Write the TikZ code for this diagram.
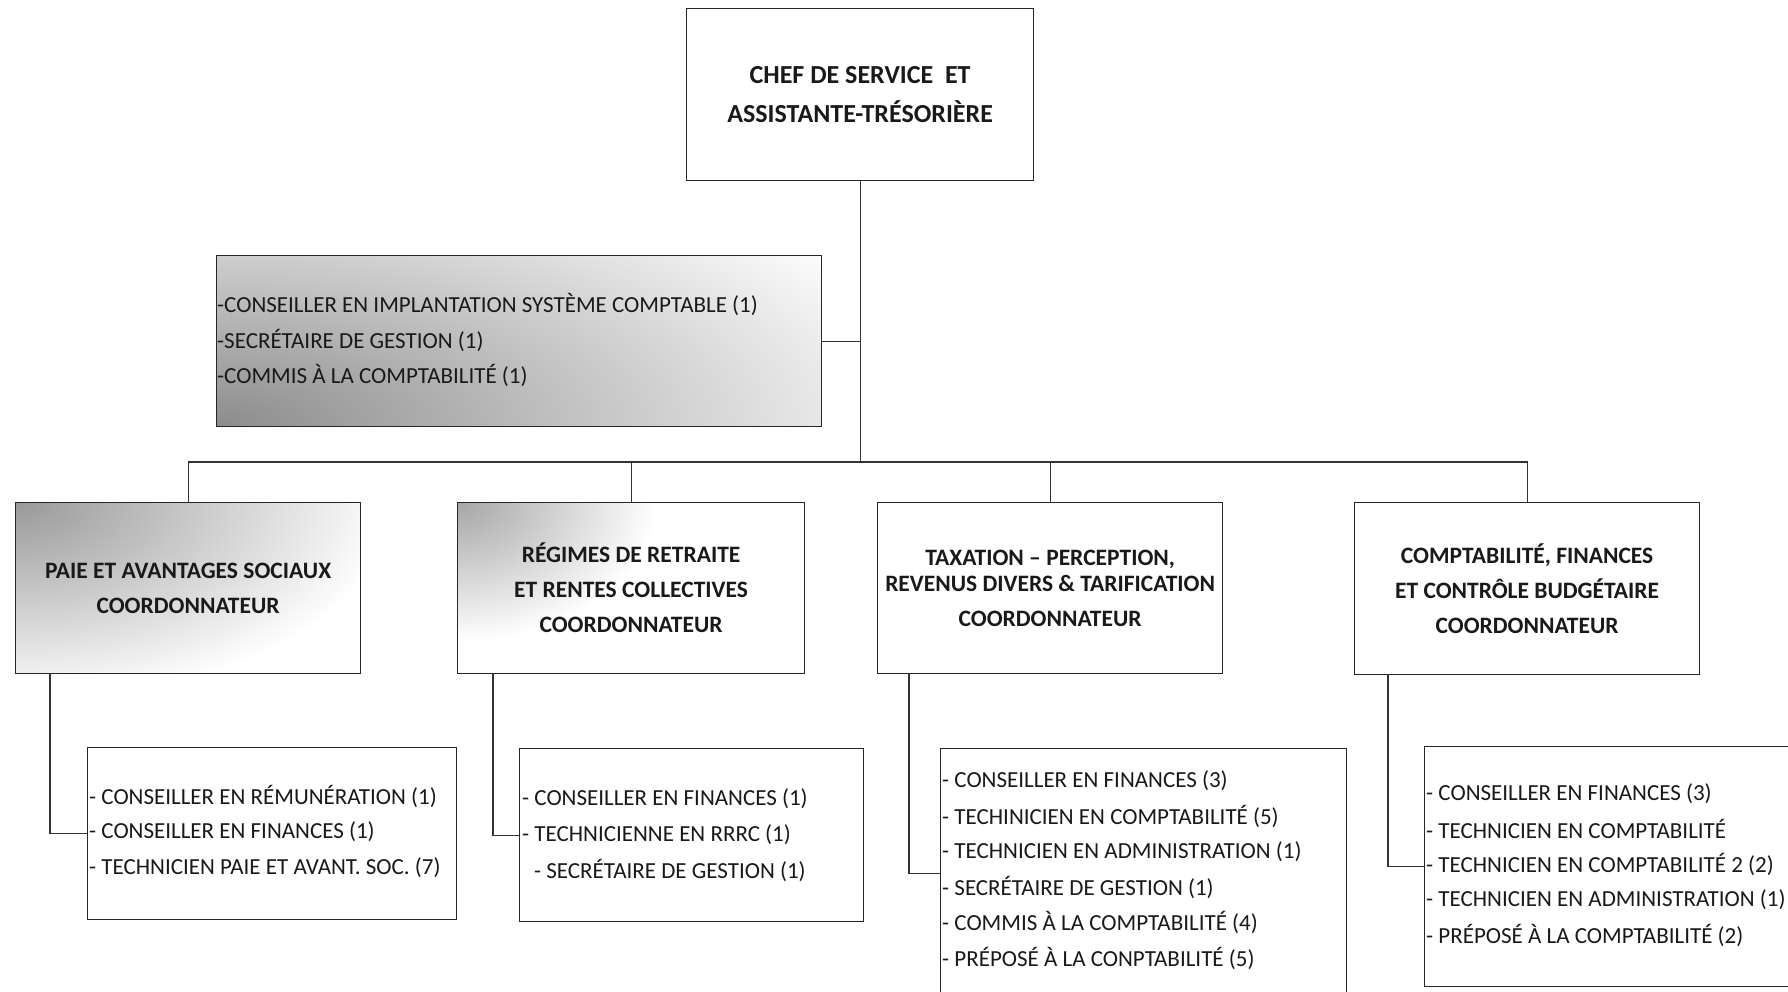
\documentclass[tikz,border=0pt]{standalone}
\usepackage{fontspec}
\setmainfont{Carlito}
\begin{document}
\begin{tikzpicture}[x=1pt,y=-1pt,
  box/.style={draw=black!85, line width=1.2pt, inner sep=0pt, anchor=north west},
  ttl/.style={font=\fontsize{23.5}{35}\selectfont\bfseries, align=center, text=black!90},
  item/.style={font=\fontsize{23}{25}\selectfont, anchor=west, inner sep=0pt, text=black!90},
  link/.style={draw=black!80, line width=1.2pt}]
\clip (0,0) rectangle (1788,991);
\fill[white] (0,0) rectangle (1788,991);
% shadings (scan grain)
\begin{scope}
  \clip (216,255) rectangle (821,426);
  \shade[inner color=black!45, outer color=white] (216,426) ellipse (760 and 300);
\end{scope}
\begin{scope}
  \clip (15,502) rectangle (360,673);
  \shade[inner color=black!40, outer color=white] (15,502) ellipse (380 and 200);
\end{scope}
\begin{scope}
  \clip (457,502) rectangle (804,673);
  \shade[inner color=black!35, outer color=white] (457,502) ellipse (200 and 140);
\end{scope}
% boxes
\node[box, minimum width=347pt, minimum height=172pt, ttl, font=\fontsize{26}{39}\selectfont\bfseries] (chef) at (686,8)
  {CHEF DE SERVICE\ \ ET\\ASSISTANTE-TRÉSORIÈRE};
\node[box, minimum width=605pt, minimum height=171pt] (staff) at (216,255) {};
\node[box, minimum width=345pt, minimum height=171pt, ttl] (c1) at (15,502)
  {PAIE ET AVANTAGES SOCIAUX\\COORDONNATEUR};
\node[box, minimum width=347pt, minimum height=171pt, ttl] (c2) at (457,502)
  {RÉGIMES DE RETRAITE\\ET RENTES COLLECTIVES\\COORDONNATEUR};
\node[box, minimum width=345pt, minimum height=171pt, ttl] (c3) at (877,502)
  {TAXATION – PERCEPTION,\\[-9pt]REVENUS DIVERS \& TARIFICATION\\COORDONNATEUR};
\node[box, minimum width=345pt, minimum height=172pt, ttl] (c4) at (1354,502)
  {COMPTABILITÉ, FINANCES\\ET CONTRÔLE BUDGÉTAIRE\\COORDONNATEUR};
\node[box, minimum width=369pt, minimum height=172pt] (s1) at (87,747) {};
\node[box, minimum width=344pt, minimum height=173pt] (s2) at (519,748) {};
\node[box, minimum width=406pt, minimum height=250pt] (s3) at (940,748) {};
\node[box, minimum width=380pt, minimum height=240pt] (s4) at (1424,746) {};
% staff items
\node[item] (st1) at (217,304) {-CONSEILLER EN IMPLANTATION SYSTÈME COMPTABLE (1)};
\node[item] (st2) at (217,340) {-SECRÉTAIRE DE GESTION (1)};
\node[item] (st3) at (217,375) {-COMMIS À LA COMPTABILITÉ (1)};
% s1 items
\node[item] (a1) at (89,796) {- CONSEILLER EN RÉMUNÉRATION (1)};
\node[item] (a2) at (89,832) {- CONSEILLER EN FINANCES (1)};
\node[item] (a3) at (89,868) {- TECHNICIEN PAIE ET AVANT. SOC. (7)};
% s2 items
\node[item] (b1) at (522,799) {- CONSEILLER EN FINANCES (1)};
\node[item] (b2) at (522,835) {- TECHNICIENNE EN RRRC (1)};
\node[item] (b3) at (534,870) {- SECRÉTAIRE DE GESTION (1)};
% s3 items
\node[item] (d1) at (942,781) {- CONSEILLER EN FINANCES (3)};
\node[item] (d2) at (942,816) {- TECHINICIEN EN COMPTABILITÉ (5)};
\node[item] (d3) at (942,852) {- TECHNICIEN EN ADMINISTRATION (1)};
\node[item] (d4) at (942,887) {- SECRÉTAIRE DE GESTION (1)};
\node[item] (d5) at (942,922) {- COMMIS À LA COMPTABILITÉ (4)};
\node[item] (d6) at (942,958) {- PRÉPOSÉ À LA CONPTABILITÉ (5)};
% s4 items
\node[item] (e1) at (1426,794) {- CONSEILLER EN FINANCES (3)};
\node[item] (e2) at (1426,829) {- TECHNICIEN EN COMPTABILITÉ};
\node[item] (e3) at (1426,864) {- TECHNICIEN EN COMPTABILITÉ 2 (2)};
\node[item] (e4) at (1426,900) {- TECHNICIEN EN ADMINISTRATION (1)};
\node[item] (e5) at (1426,935) {- PRÉPOSÉ À LA COMPTABILITÉ (2)};
% connectors
\coordinate (bus) at (chef.south |- 0,462);
\draw[link] (chef.south) -- (bus);
\draw[link] (staff.east) -- (staff.east -| chef.south);
\draw[link] (c1.north) |- (bus);
\draw[link] (c2.north) |- (bus);
\draw[link] (c3.north) |- (bus);
\draw[link] (c4.north) |- (bus);
\coordinate (c1d) at (50,673);
\coordinate (c2d) at (493,673);
\coordinate (c3d) at (909,673);
\coordinate (c4d) at (1388,674);
\draw[link] (c1d) |- (s1.west);
\draw[link] (c2d) |- (s2.west);
\draw[link] (c3d) |- (s3.west);
\draw[link] (c4d) |- (s4.west);
\end{tikzpicture}
\end{document}
